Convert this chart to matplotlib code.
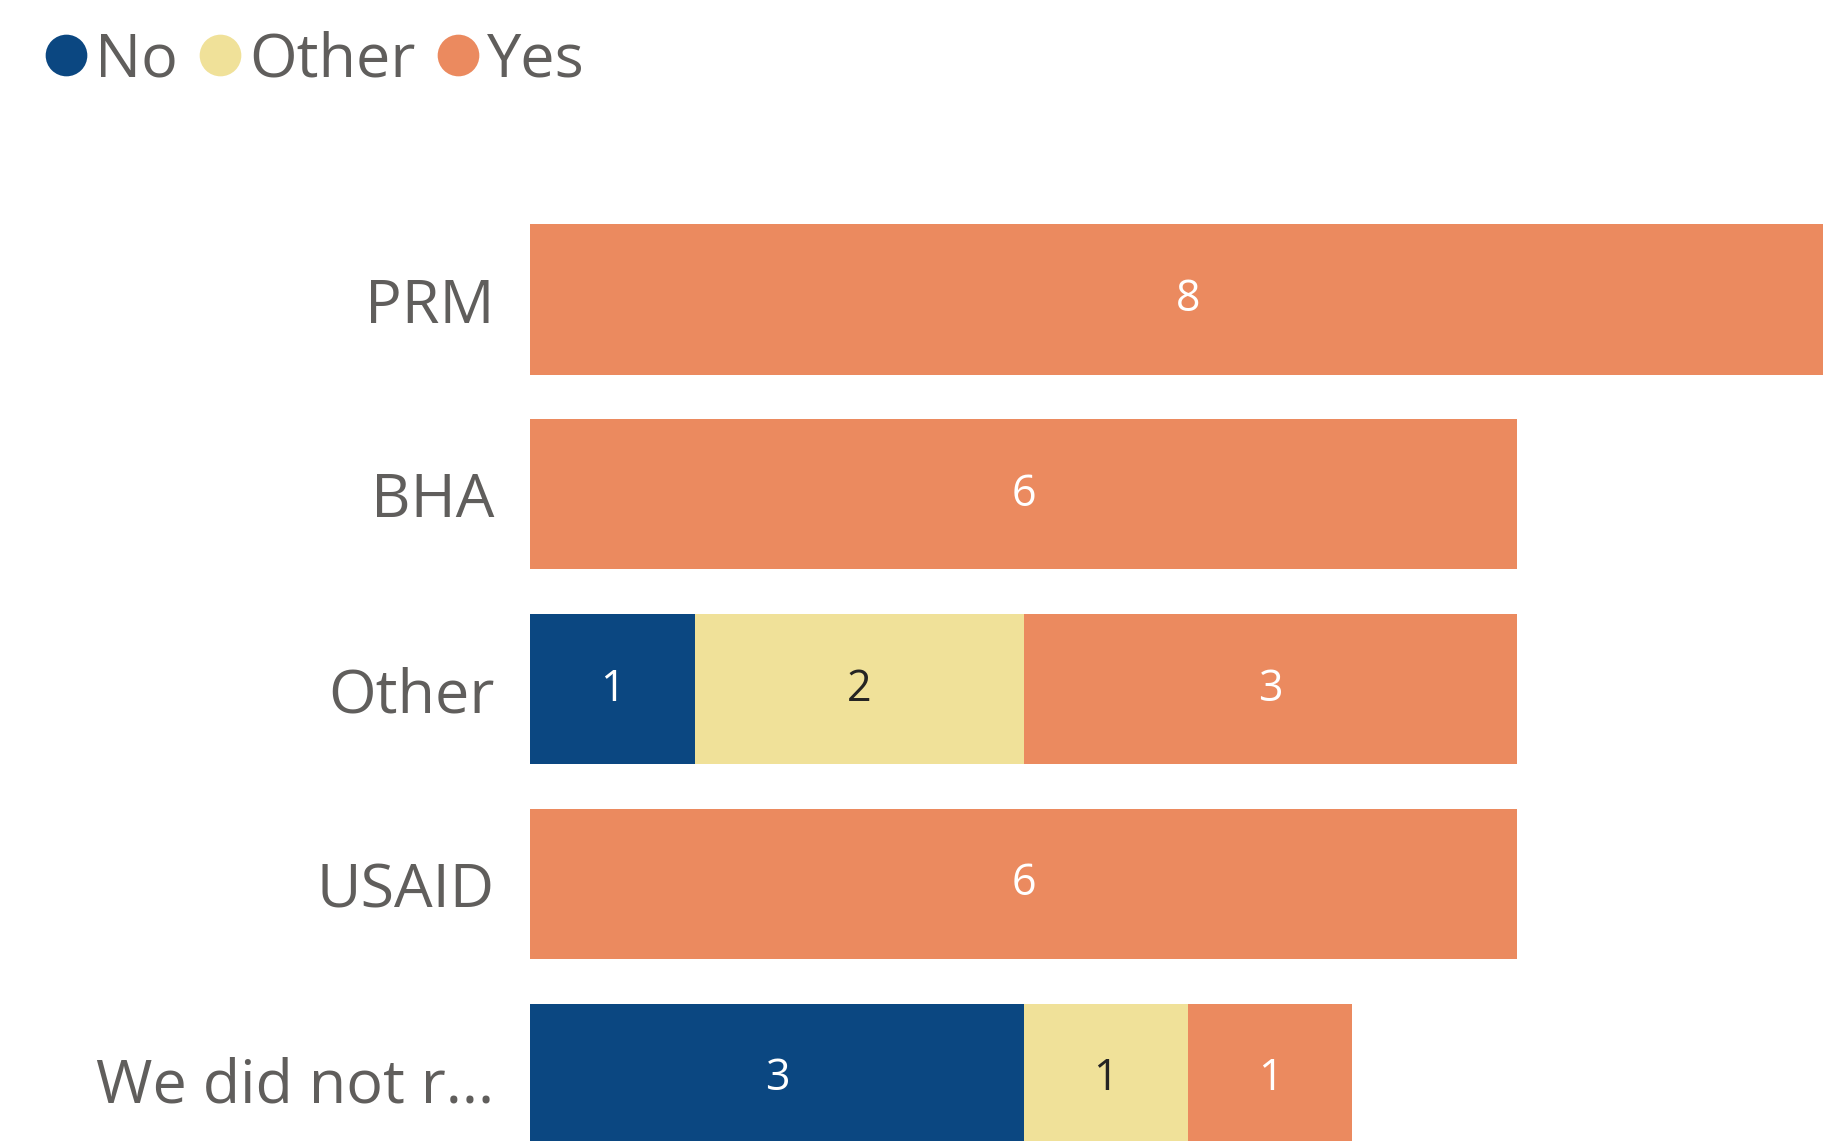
import numpy as np
import matplotlib.pyplot as plt
from matplotlib.lines import Line2D

plt.rcParams['font.family'] = ['Open Sans', 'DejaVu Sans']

categories = ['PRM', 'BHA', 'Other', 'USAID', 'We did not r...']
no_vals = [0, 0, 1, 0, 3]
other_vals = [0, 0, 2, 0, 1]
yes_vals = [8, 6, 3, 6, 1]

series = ['No', 'Other', 'Yes']
colors = ['#0B4781', '#F0E199', '#EB8A5F']
text_colors = ['white', '#252423', 'white']

fig = plt.figure(figsize=(18.24, 11.41), dpi=100)
ax = fig.add_axes([0.2908, 0.0, 0.7092, 1.0])

y = np.arange(len(categories))
left = np.zeros(len(categories))
for name, vals, col, tcol in zip(series, [no_vals, other_vals, yes_vals], colors, text_colors):
    vals = np.array(vals, dtype=float)
    ax.barh(y, vals, left=left, height=0.77, color=col, label=name)
    for yi, v, l in zip(y, vals, left):
        if v > 0:
            ax.text(l + v / 2, yi, '%d' % v, ha='center', va='center',
                    fontsize=31, color=tcol)
    left += vals

ax.set_xlim(0, 7.868)
ax.set_ylim(4.318, -1.537)
ax.set_yticks(y)
ax.set_yticklabels(categories, fontsize=44, color='#605E5C')
ax.tick_params(axis='y', length=0, pad=26)
ax.set_xticks([])
for s in ax.spines.values():
    s.set_visible(False)

handles = [Line2D([], [], marker='o', linestyle='none', markersize=30,
                  markerfacecolor=c, markeredgecolor='none') for c in colors]
leg = fig.legend(handles, series, loc='upper left', bbox_to_anchor=(0.011, 1.0),
                 ncol=3, frameon=False, fontsize=44, handlelength=0.5,
                 handletextpad=0.22, columnspacing=0.45, borderaxespad=0.1)
for t in leg.get_texts():
    t.set_color('#605E5C')

fig.savefig('out.png', dpi=100)
